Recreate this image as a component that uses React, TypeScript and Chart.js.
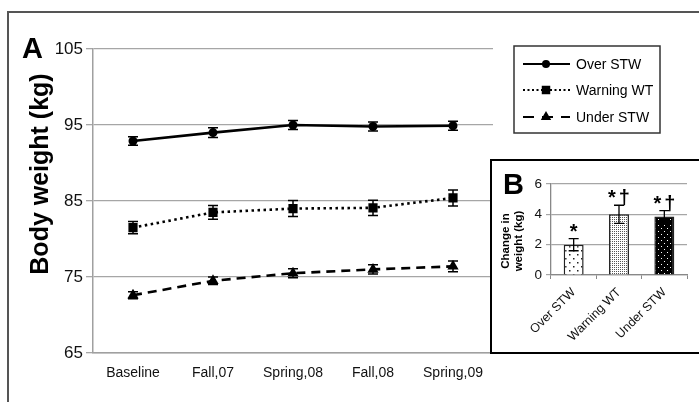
import React, { useEffect, useRef } from "react";
import { Chart, registerables } from "chart.js";

Chart.register(...registerables);

// ---- Panel A data ----
const timepoints = ["Baseline", "Fall,07", "Spring,08", "Fall,08", "Spring,09"];
const seriesNames = ["Over STW", "Warning WT", "Under STW"];
const overStw = [92.9, 94.0, 95.0, 94.8, 94.9];
const overStwErr = [0.55, 0.65, 0.6, 0.6, 0.6];
const warningWt = [81.5, 83.5, 84.0, 84.1, 85.4];
const warningWtErr = [0.8, 0.9, 1.05, 1.0, 1.05];
const underStw = [72.6, 74.5, 75.5, 76.0, 76.4];
const underStwErr = [0.45, 0.5, 0.6, 0.6, 0.7];
const weightTicks = [65, 75, 85, 95, 105];

// ---- Panel B data ----
const groups = ["Over STW", "Warning WT", "Under STW"];
const changeValues = [2.0, 4.0, 3.85];
const changeErr = [0.4, 0.6, 0.4];
const changeMarks = ["*", "*†", "*†"];
const changeTicks = [0, 2, 4, 6];

const FONT = "'Liberation Sans', Arial, Helvetica, sans-serif";

function makePattern(bg: string, dot: string, size: number, dots: number[][], dotSize = 1) {
  const c = document.createElement("canvas");
  c.width = size;
  c.height = size;
  const g = c.getContext("2d")!;
  g.fillStyle = bg;
  g.fillRect(0, 0, size, size);
  g.fillStyle = dot;
  for (const [x, y] of dots) g.fillRect(x, y, dotSize, dotSize);
  return g.createPattern(c, "repeat")!;
}

function drawMarker(ctx: CanvasRenderingContext2D, style: string, x: number, y: number, r: number) {
  ctx.beginPath();
  if (style === "circle") {
    ctx.arc(x, y, r, 0, Math.PI * 2);
  } else if (style === "rect") {
    const s = r * Math.SQRT1_2;
    ctx.rect(x - s, y - s, 2 * s, 2 * s);
  } else {
    const h = r * 1.5;
    const half = (r * Math.sqrt(3)) / 2;
    ctx.moveTo(x, y - r);
    ctx.lineTo(x + half, y - r + h);
    ctx.lineTo(x - half, y - r + h);
    ctx.closePath();
  }
  ctx.fill();
}

const mainErrors = [overStwErr, warningWtErr, underStwErr];

const mainDecor = {
  id: "mainDecor",
  beforeDraw(chart: any) {
    const { ctx } = chart;
    ctx.save();
    ctx.fillStyle = "#fff";
    ctx.fillRect(0, 0, chart.width, chart.height);
    ctx.restore();
  },
  afterDatasetsDraw(chart: any) {
    const { ctx } = chart;
    const y = chart.scales.y;
    chart.data.datasets.forEach((ds: any, i: number) => {
      const meta = chart.getDatasetMeta(i);
      const errs = mainErrors[i];
      meta.data.forEach((pt: any, j: number) => {
        const v = ds.data[j];
        const e = errs[j];
        const top = y.getPixelForValue(v + e);
        const bot = y.getPixelForValue(v - e);
        ctx.save();
        ctx.strokeStyle = "#000";
        ctx.lineWidth = 1.5;
        ctx.setLineDash([]);
        ctx.beginPath();
        ctx.moveTo(pt.x, top);
        ctx.lineTo(pt.x, bot);
        ctx.moveTo(pt.x - 5, top);
        ctx.lineTo(pt.x + 5, top);
        ctx.moveTo(pt.x - 5, bot);
        ctx.lineTo(pt.x + 5, bot);
        ctx.stroke();
        ctx.restore();
      });
    });
  },
  afterDraw(chart: any) {
    const { ctx } = chart;
    ctx.save();
    // outer frame
    ctx.strokeStyle = "#555";
    ctx.lineWidth = 2;
    ctx.beginPath();
    ctx.moveTo(8, 402);
    ctx.lineTo(8, 12);
    ctx.lineTo(699, 12);
    ctx.stroke();

    // panel letter
    ctx.fillStyle = "#000";
    ctx.font = `bold 29px ${FONT}`;
    ctx.textAlign = "left";
    ctx.textBaseline = "alphabetic";
    ctx.fillText("A", 22, 58);

    // y title
    ctx.save();
    ctx.translate(41, 174);
    ctx.rotate(-Math.PI / 2);
    ctx.font = `bold 25px ${FONT}`;
    ctx.textAlign = "center";
    ctx.textBaseline = "middle";
    ctx.fillText("Body weight (kg)", 0, 0);
    ctx.restore();

    // legend
    ctx.fillStyle = "#fff";
    ctx.fillRect(514, 46, 146, 87);
    ctx.strokeStyle = "#333";
    ctx.lineWidth = 1.5;
    ctx.strokeRect(514, 46, 146, 87);
    const rows = [64, 90, 117];
    chart.data.datasets.forEach((ds: any, i: number) => {
      const yy = rows[i];
      ctx.strokeStyle = "#000";
      ctx.lineWidth = 2;
      ctx.setLineDash(i === 0 ? [] : i === 1 ? [2, 2.5] : [11, 8]);
      ctx.beginPath();
      ctx.moveTo(523, yy);
      ctx.lineTo(570, yy);
      ctx.stroke();
      ctx.setLineDash([]);
      ctx.fillStyle = "#000";
      drawMarker(ctx, ds.pointStyle, 546, yy, ds.pointStyle === "circle" ? 4 : 6);
      ctx.font = `14px ${FONT}`;
      ctx.textAlign = "left";
      ctx.textBaseline = "middle";
      ctx.fillText(ds.label, 576, yy + 1);
    });
    ctx.restore();
  },
};

const bDecor = {
  id: "bDecor",
  beforeDraw(chart: any) {
    const { ctx } = chart;
    ctx.save();
    ctx.fillStyle = "#fff";
    ctx.fillRect(0, 0, chart.width, chart.height);
    ctx.restore();
  },
  afterDatasetsDraw(chart: any) {
    const { ctx } = chart;
    const y = chart.scales.y;
    const meta = chart.getDatasetMeta(0);
    meta.data.forEach((bar: any, j: number) => {
      const v = changeValues[j];
      const e = changeErr[j];
      const top = y.getPixelForValue(v + e);
      const bot = y.getPixelForValue(v - e);
      ctx.save();
      ctx.strokeStyle = "#000";
      ctx.lineWidth = 1.3;
      ctx.beginPath();
      ctx.moveTo(bar.x, top);
      ctx.lineTo(bar.x, bot);
      ctx.moveTo(bar.x - 5, top);
      ctx.lineTo(bar.x + 5, top);
      ctx.moveTo(bar.x - 5, bot);
      ctx.lineTo(bar.x + 5, bot);
      ctx.stroke();
      ctx.fillStyle = "#000";
      ctx.font = `bold 20px ${FONT}`;
      ctx.textAlign = "center";
      ctx.textBaseline = "alphabetic";
      (ctx as any).letterSpacing = "3px";
      ctx.fillText(changeMarks[j], bar.x + 1.5, top - 1);
      ctx.restore();
    });
  },
  afterDraw(chart: any) {
    const { ctx } = chart;
    ctx.save();
    ctx.fillStyle = "#000";
    ctx.font = `bold 29px ${FONT}`;
    ctx.textAlign = "left";
    ctx.textBaseline = "alphabetic";
    ctx.fillText("B", 11, 33);
    ctx.translate(20, 80);
    ctx.rotate(-Math.PI / 2);
    ctx.font = `bold 11.5px ${FONT}`;
    ctx.textAlign = "center";
    ctx.textBaseline = "middle";
    ctx.fillText("Change in", 0, -6.5);
    ctx.fillText("weight (kg)", 0, 6.5);
    ctx.restore();
  },
};

export default function App() {
  const mainRef = useRef<HTMLCanvasElement>(null);
  const bRef = useRef<HTMLCanvasElement>(null);

  useEffect(() => {
    const mainChart = new Chart(mainRef.current!, {
      type: "line",
      data: {
        labels: timepoints,
        datasets: [
          {
            label: seriesNames[0],
            data: overStw,
            borderColor: "#000",
            backgroundColor: "#000",
            borderWidth: 2.6,
            pointStyle: "circle",
            pointRadius: 4.5,
            pointBackgroundColor: "#000",
            pointBorderWidth: 0,
            tension: 0,
            fill: false,
          },
          {
            label: seriesNames[1],
            data: warningWt,
            borderColor: "#000",
            backgroundColor: "#000",
            borderWidth: 2.6,
            borderDash: [2.5, 3.5],
            pointStyle: "rect",
            pointRadius: 6.5,
            pointBackgroundColor: "#000",
            pointBorderWidth: 0,
            tension: 0,
            fill: false,
          },
          {
            label: seriesNames[2],
            data: underStw,
            borderColor: "#000",
            backgroundColor: "#000",
            borderWidth: 2.6,
            borderDash: [9, 6],
            pointStyle: "triangle",
            pointRadius: 6.5,
            pointBackgroundColor: "#000",
            pointBorderWidth: 0,
            tension: 0,
            fill: false,
          },
        ],
      },
      options: {
        responsive: false,
        animation: false,
        devicePixelRatio: 1,
        layout: { padding: { left: 0, top: 49, right: 206, bottom: 0 } },
        plugins: { legend: { display: false }, tooltip: { enabled: false } },
        scales: {
          x: {
            type: "category",
            offset: true,
            grid: { display: false },
            border: { display: true, color: "#a0a0a0", width: 1.5 },
            ticks: {
              color: "#111",
              font: { family: FONT, size: 14 },
              padding: 4,
              maxRotation: 0,
              autoSkip: false,
            },
            afterFit: (s: any) => {
              s.height = 49;
            },
          },
          y: {
            min: 65,
            max: 105,
            afterBuildTicks: (s: any) => {
              s.ticks = weightTicks.map((v) => ({ value: v }));
            },
            grid: { color: "#a6a6a6", lineWidth: 1.3, tickLength: 7, drawTicks: true },
            border: { display: true, color: "#a0a0a0", width: 1.5 },
            ticks: {
              color: "#111",
              font: { family: FONT, size: 17 },
              padding: 3,
            },
            afterFit: (s: any) => {
              s.width = 93;
            },
          },
        },
      },
      plugins: [mainDecor],
    } as any);

    const patOver = makePattern("#fff", "#222", 8, [[1, 1], [5, 5]], 1.5);
    const patWarn = makePattern("#fff", "#555", 2, [[0, 0]]);
    const patUnder = makePattern("#000", "#fff", 6, [[1, 1], [4, 4]]);

    const bChart = new Chart(bRef.current!, {
      type: "bar",
      data: {
        labels: groups,
        datasets: [
          {
            label: "Change in weight (kg)",
            data: changeValues,
            backgroundColor: [patOver, patWarn, patUnder],
            borderColor: "#222",
            borderWidth: 1.5,
            categoryPercentage: 1,
            barPercentage: 0.44,
          },
        ],
      },
      options: {
        responsive: false,
        animation: false,
        devicePixelRatio: 1,
        layout: { padding: { left: 0, top: 23, right: 12, bottom: 0 } },
        plugins: { legend: { display: false }, tooltip: { enabled: false } },
        scales: {
          x: {
            grid: { display: true, drawOnChartArea: false, drawTicks: true, tickLength: 4, color: "#888", offset: true },
            border: { display: true, color: "#888", width: 1.3 },
            ticks: {
              color: "#111",
              font: { family: FONT, size: 12.5 },
              minRotation: 45,
              maxRotation: 45,
              padding: 6,
              autoSkip: false,
            },
            afterFit: (s: any) => {
              s.height = 77;
            },
          },
          y: {
            min: 0,
            max: 6,
            afterBuildTicks: (s: any) => {
              s.ticks = changeTicks.map((v) => ({ value: v }));
            },
            grid: { color: "#a6a6a6", lineWidth: 1.2, tickLength: 5, drawTicks: true },
            border: { display: true, color: "#888", width: 1.3 },
            ticks: {
              color: "#111",
              font: { family: FONT, size: 13.5 },
              padding: 4,
            },
            afterFit: (s: any) => {
              s.width = 59;
            },
          },
        },
      },
      plugins: [bDecor],
    } as any);

    return () => {
      mainChart.destroy();
      bChart.destroy();
    };
  }, []);

  return (
    <div
      style={{
        position: "fixed",
        left: 0,
        top: 0,
        width: 699,
        height: 402,
        overflow: "hidden",
        background: "#fff",
      }}
    >
      <canvas
        ref={mainRef}
        width={699}
        height={402}
        style={{ position: "absolute", left: 0, top: 0, width: 699, height: 402 }}
      />
      <div
        style={{
          position: "absolute",
          left: 490,
          top: 159,
          width: 240,
          height: 191,
          border: "2px solid #000",
          background: "#fff",
        }}
      >
        <canvas
          ref={bRef}
          width={207}
          height={191}
          style={{ position: "absolute", left: 0, top: 0, width: 207, height: 191 }}
        />
      </div>
    </div>
  );
}
